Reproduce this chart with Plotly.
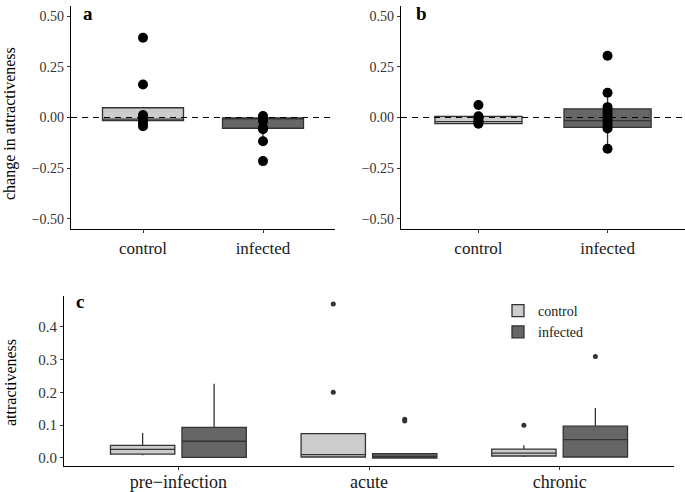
import plotly.graph_objects as go

# ---------------- data ----------------
ab_groups = ["control", "infected"]

# panel a: box stats (control, infected)
a_q1 = [-0.015, -0.053]
a_median = [-0.008, -0.004]
a_q3 = [0.048, -0.002]
a_lower = [-0.043, -0.117]
a_upper = [0.012, 0.007]
a_pts_control = [0.393, 0.163, 0.012, 0.0, -0.015, -0.03, -0.043]
a_pts_infected = [0.007, -0.003, -0.018, -0.05, -0.058, -0.117, -0.215]

# panel b
b_q1 = [-0.03, -0.049]
b_median = [-0.02, -0.015]
b_q3 = [0.006, 0.043]
b_lower = [-0.031, -0.154]
b_upper = [0.006, 0.122]
b_pts_control = [0.062, 0.006, -0.005, -0.015, -0.025, -0.031]
b_pts_infected = [0.305, 0.122, 0.051, 0.035, 0.02, 0.005, -0.01, -0.025,
                  -0.04, -0.054, -0.154]

# panel c
phases = ["pre\u2212infection", "acute", "chronic"]
c_ctrl_q1 = [0.012, 0.003, 0.006]
c_ctrl_median = [0.026, 0.010, 0.015]
c_ctrl_q3 = [0.0386, 0.074, 0.027]
c_ctrl_lower = [0.008, 0.002, 0.003]
c_ctrl_upper = [0.076, 0.074, 0.039]
c_ctrl_out_x = ["acute", "acute", "chronic"]
c_ctrl_out_y = [0.469, 0.2, 0.1]

c_inf_q1 = [0.002, 0.0, 0.003]
c_inf_median = [0.051, 0.005, 0.056]
c_inf_q3 = [0.093, 0.013, 0.097]
c_inf_lower = [0.0, 0.0, 0.002]
c_inf_upper = [0.226, 0.013, 0.152]
c_inf_out_x = ["acute", "acute", "chronic"]
c_inf_out_y = [0.113, 0.118, 0.309]

ab_ticks = [-0.5, -0.25, 0.0, 0.25, 0.5]
c_ticks = [0.0, 0.1, 0.2, 0.3, 0.4]

# ---------------- style ----------------
FONT = "Liberation Serif"
CTRL_FILL = "#CCCCCC"
INF_FILL = "#666666"
EDGE = "#333333"
W, H = 685, 492

fig = go.Figure()


def box(xax, yax, xcat, q1, med, q3, lo, hi, fill, name, og, legend=False):
    fig.add_trace(go.Box(
        x=xcat, q1=q1, median=med, q3=q3, lowerfence=lo, upperfence=hi,
        xaxis=xax, yaxis=yax, fillcolor=fill, name=name, offsetgroup=og,
        line=dict(color=EDGE, width=1.3), whiskerwidth=0, boxpoints=False,
        showlegend=legend, legendgroup=name,
    ))


# panel a
box("x", "y", [ab_groups[0]], [a_q1[0]], [a_median[0]], [a_q3[0]], [a_lower[0]], [a_upper[0]], CTRL_FILL, "control", "s")
box("x", "y", [ab_groups[1]], [a_q1[1]], [a_median[1]], [a_q3[1]], [a_lower[1]], [a_upper[1]], INF_FILL, "infected", "s")
fig.add_trace(go.Scatter(
    x=[ab_groups[0]] * len(a_pts_control) + [ab_groups[1]] * len(a_pts_infected),
    y=a_pts_control + a_pts_infected, mode="markers", xaxis="x", yaxis="y",
    marker=dict(color="black", size=10), showlegend=False))

# panel b
box("x2", "y2", [ab_groups[0]], [b_q1[0]], [b_median[0]], [b_q3[0]], [b_lower[0]], [b_upper[0]], CTRL_FILL, "control", "s")
box("x2", "y2", [ab_groups[1]], [b_q1[1]], [b_median[1]], [b_q3[1]], [b_lower[1]], [b_upper[1]], INF_FILL, "infected", "s")
fig.add_trace(go.Scatter(
    x=[ab_groups[0]] * len(b_pts_control) + [ab_groups[1]] * len(b_pts_infected),
    y=b_pts_control + b_pts_infected, mode="markers", xaxis="x2", yaxis="y2",
    marker=dict(color="black", size=10), showlegend=False))

# panel c
box("x3", "y3", phases, c_ctrl_q1, c_ctrl_median, c_ctrl_q3, c_ctrl_lower, c_ctrl_upper, CTRL_FILL, "control", "c", True)
box("x3", "y3", phases, c_inf_q1, c_inf_median, c_inf_q3, c_inf_lower, c_inf_upper, INF_FILL, "infected", "i", True)
fig.add_trace(go.Scatter(x=c_ctrl_out_x, y=c_ctrl_out_y, mode="markers", xaxis="x3", yaxis="y3",
                         offsetgroup="c", marker=dict(color=EDGE, size=5), showlegend=False))
fig.add_trace(go.Scatter(x=c_inf_out_x, y=c_inf_out_y, mode="markers", xaxis="x3", yaxis="y3",
                         offsetgroup="i", marker=dict(color=EDGE, size=5), showlegend=False))

# ---------------- axes ----------------
axis_common = dict(showline=True, linecolor="black", linewidth=1.2, ticks="outside",
                   ticklen=3, tickcolor=EDGE, showgrid=False, zeroline=False,
                   fixedrange=True, automargin=False)


def xa(domain, anchor, cats, size, standoff):
    d = dict(axis_common)
    d.update(domain=domain, anchor=anchor, type="category", categoryorder="array",
             categoryarray=cats, range=[-0.6, len(cats) - 0.4],
             ticklabelstandoff=standoff,
             tickfont=dict(family=FONT, size=size, color="#1a1a1a"))
    return d


def ya(domain, anchor, rng, ticks, fmt, size):
    d = dict(axis_common)
    d.update(domain=domain, anchor=anchor, range=rng, tickvals=ticks, tickformat=fmt,
             tickfont=dict(family=FONT, size=size, color="#333333"))
    return d


ya_ab = [1 - 229 / H, 1 - 6 / H]
yc = [1 - 465.7 / H, 1 - 296 / H]

fig.update_layout(
    template="none",
    width=W, height=H, margin=dict(l=0, r=0, t=0, b=0, autoexpand=False),
    paper_bgcolor="white", plot_bgcolor="white",
    boxmode="group", boxgap=0.25, boxgroupgap=0.1,
    scattermode="group", scattergap=0.25,
    xaxis=xa([71 / W, 335 / W], "y", ab_groups, 17, 0),
    yaxis=ya(ya_ab, "x", [-0.55, 0.55], ab_ticks, ".2f", 14),
    xaxis2=xa([401 / W, 1.0], "y2", ab_groups, 17, 0),
    yaxis2=ya(ya_ab, "x2", [-0.55, 0.55], ab_ticks, ".2f", 14),
    xaxis3=xa([64 / W, 674 / W], "y3", phases, 18, -3),
    yaxis3=ya(yc, "x3", [-0.0235, 0.4935], c_ticks, ".1f", 15),
    legend=dict(x=0.727, y=1 - 295 / H, xanchor="left", yanchor="top",
                font=dict(family=FONT, size=14, color="#1a1a1a"),
                bgcolor="rgba(0,0,0,0)", borderwidth=0, tracegroupgap=0, itemwidth=30),
    font=dict(family=FONT),
    showlegend=True,
)

# dashed zero lines
for xr, yr in [("x", "y"), ("x2", "y2")]:
    fig.add_shape(type="line", xref=xr + " domain", yref=yr, x0=0, x1=1, y0=0, y1=0,
                  line=dict(color="black", width=1.2, dash="6px,5px"), layer="above")

# panel letters
for txt, x, y in [("a", 88, 14), ("b", 421, 14), ("c", 80, 301)]:
    fig.add_annotation(text="<b>" + txt + "</b>", x=x / W, y=1 - y / H, xref="paper", yref="paper",
                       showarrow=False, xanchor="center", yanchor="middle",
                       font=dict(family=FONT, size=19, color="black"))

# axis titles
fig.add_annotation(text="change in attractiveness", x=10 / W, y=1 - 124 / H, xref="paper", yref="paper",
                   textangle=-90, showarrow=False, xanchor="center", yanchor="middle",
                   font=dict(family=FONT, size=16, color="black"))
fig.add_annotation(text="attractiveness", x=10 / W, y=1 - 383 / H, xref="paper", yref="paper",
                   textangle=-90, showarrow=False, xanchor="center", yanchor="middle",
                   font=dict(family=FONT, size=16, color="black"))

fig.write_html("out.html", config={"displayModeBar": False},
               post_script="document.body.style.margin='0px';")
